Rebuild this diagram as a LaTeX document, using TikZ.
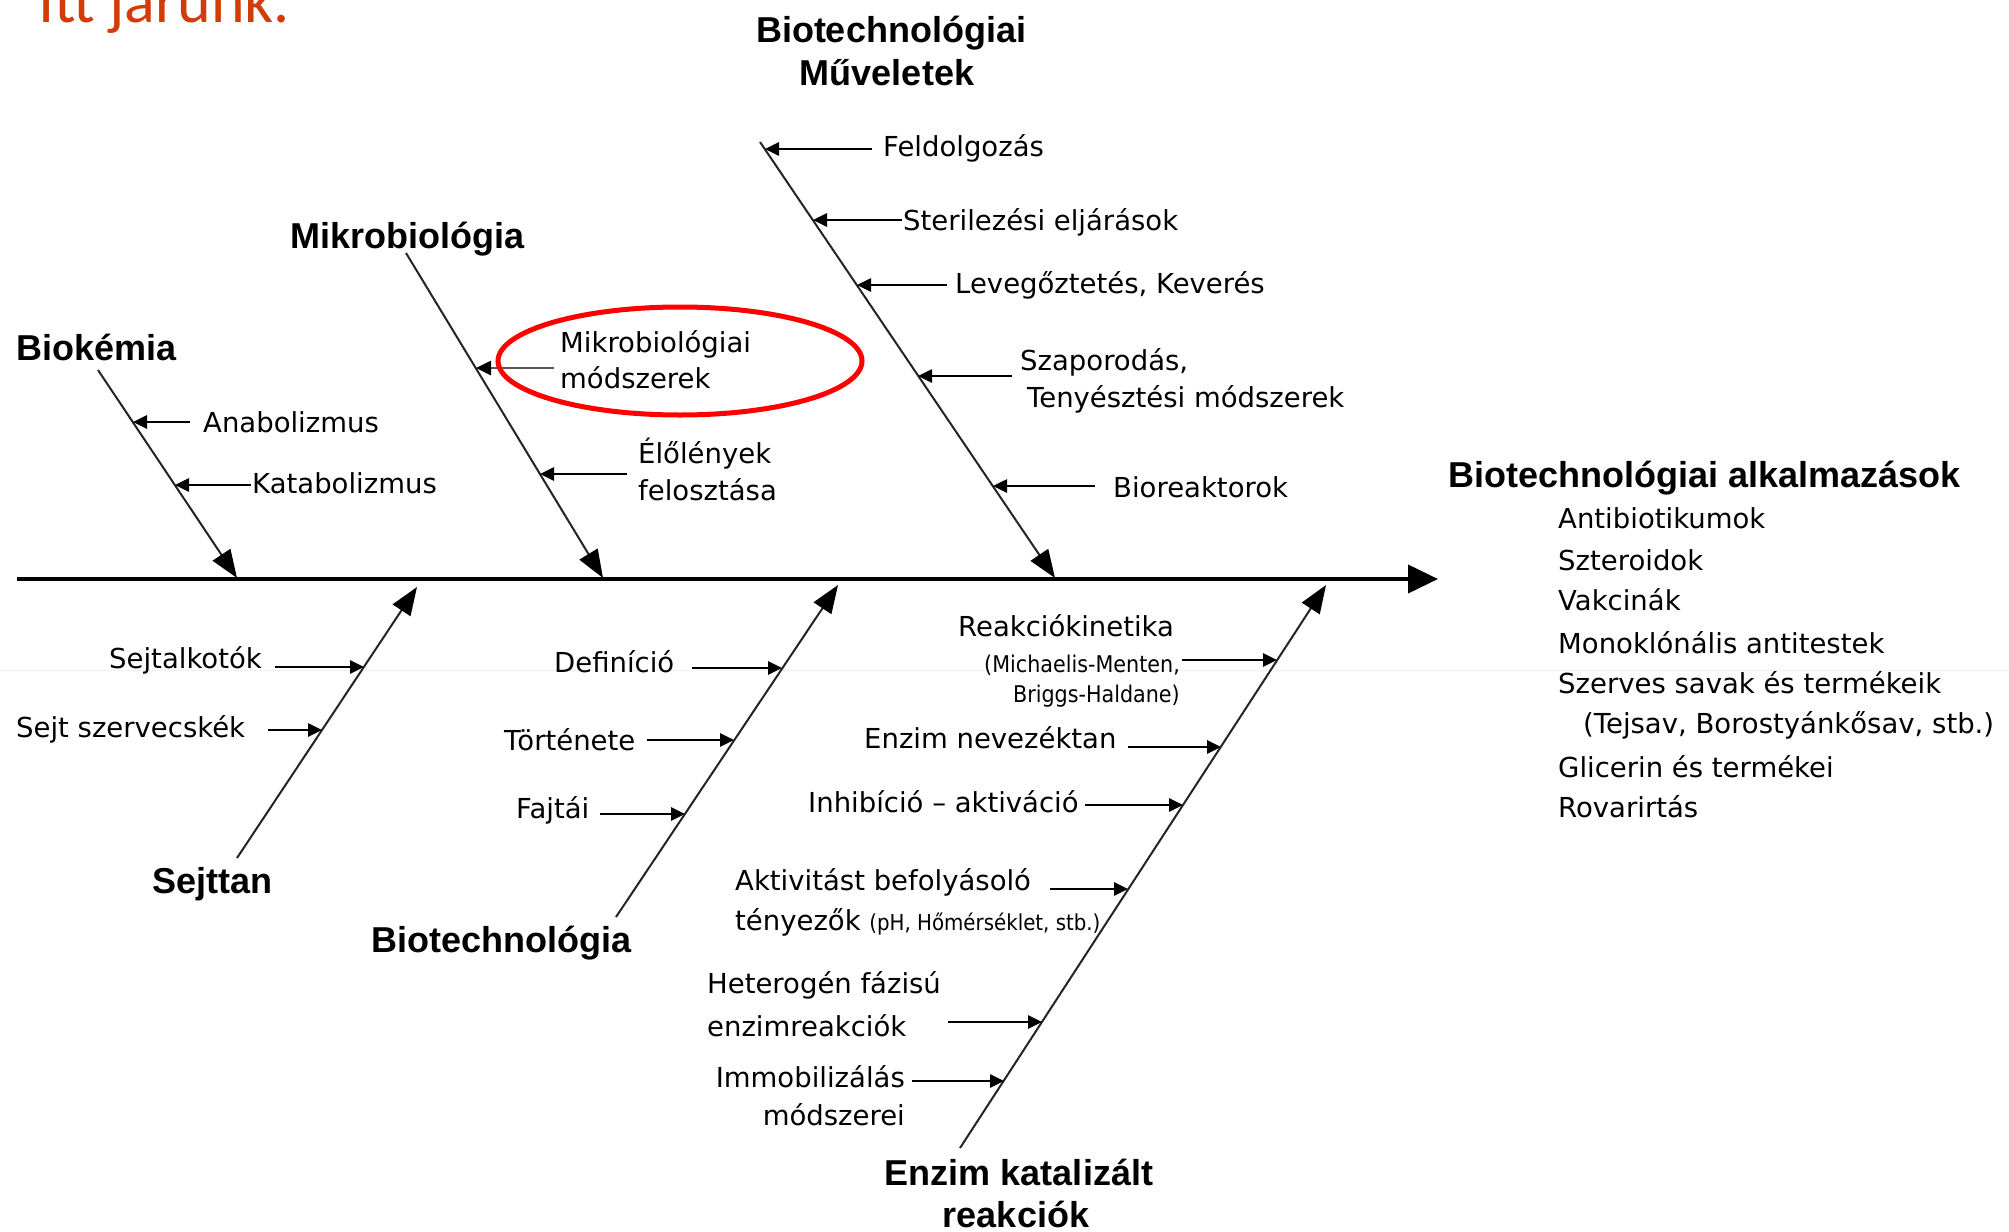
\documentclass[tikz,border=0pt]{standalone}
\usepackage{fontspec}
\setmainfont{DejaVu Sans}
\newfontfamily\headfont{Liberation Sans}
\newfontfamily\titlefont{Carlito}
\newfontfamily\condfont{DejaVu Sans Condensed}
\usetikzlibrary{arrows.meta}
\definecolor{titlered}{RGB}{209,60,10}
\definecolor{bonecol}{RGB}{35,35,45}
\definecolor{faint}{RGB}{228,250,228}
\begin{document}
\begin{tikzpicture}[x=1pt,y=-1pt,
  head/.style={font=\headfont\bfseries\fontsize{36}{43}\selectfont, inner sep=0pt, anchor=base west},
  headc/.style={head, anchor=base},
  lbl/.style={font=\fontsize{27.5}{33}\selectfont, inner sep=0pt, anchor=base west},
  lblr/.style={lbl, anchor=base east},
  smalltxt/.style={font=\condfont\fontsize{23}{27}\selectfont, inner sep=0pt, anchor=base east},
  bone/.style={line width=2pt, draw=bonecol, -{Triangle[length=28pt,width=21pt,color=black]}},
  sub/.style={line width=2.6pt, -{Triangle[length=14pt,width=13pt]}},
  spine/.style={line width=4pt, -{Triangle[length=30pt,width=28pt]}}]
\useasboundingbox (0,0) rectangle (2009,1231);
\fill[white] (0,0) rectangle (2009,1231);
\draw[faint, line width=1pt] (0,670) -- (2009,670);

% title (cut off at the top edge, as in the reference)
\node[font=\titlefont\fontsize{64}{70}\selectfont, text=titlered, inner sep=0pt, anchor=base west] (title) at (38,22.5) {Itt járunk.};

% spine
\coordinate (sp1) at (17,579);
\coordinate (sp2) at (1438,579);
\draw[spine] (sp1) -- (sp2);

% bone coordinates
\coordinate (A1) at (98,370);   \coordinate (A2) at (237,578);
\coordinate (B1) at (406,253);  \coordinate (B2) at (603,578);
\coordinate (C1) at (760,142);  \coordinate (C2) at (1055,578);
\coordinate (D1) at (237,858);  \coordinate (D2) at (417,587);
\coordinate (E1) at (616,917);  \coordinate (E2) at (838,585);
\coordinate (F1) at (960,1148); \coordinate (F2) at (1326,585);
\draw[bone] (A1) -- (A2);
\draw[bone] (B1) -- (B2);
\draw[bone] (C1) -- (C2);
\draw[bone] (D1) -- (D2);
\draw[bone] (E1) -- (E2);
\draw[bone] (F1) -- (F2);

% headings
\node[head] (hbiok) at (16,360) {Biokémia};
\node[head] (hmikro) at (290,248) {Mikrobiológia};
\node[headc] (hmuv1) at (891,42) {Biotechnológiai};
\node[headc] (hmuv2) at (887,85) {Műveletek};
\node[head] (halk) at (1448,487) {Biotechnológiai alkalmazások};
\node[head] (hsejt) at (152,893) {Sejttan};
\node[head] (hbiot) at (371,952) {Biotechnológia};
\node[headc] (henz1) at (1019,1185) {Enzim katalizált};
\node[headc] (henz2) at (1016,1227) {reakciók};

% Biokémia branches
\node[lbl] (anab) at (203,432) {Anabolizmus};
\coordinate (a1s) at (190,422); \coordinate (a1t) at (133,422);
\draw[sub] (a1s) -- (a1t);
\node[lbl] (katab) at (252,493) {Katabolizmus};
\coordinate (a2s) at (251,485); \coordinate (a2t) at (175,485);
\draw[sub] (a2s) -- (a2t);

% Mikrobiológia branches
\node[lbl] (mikm1) at (560,352) {Mikrobiológiai};
\node[lbl] (mikm2) at (560,388) {módszerek};
\coordinate (b1s) at (554,368); \coordinate (b1t) at (476,368);
\draw[sub, draw=gray!70!black, -{Triangle[length=15pt,width=14pt,color=black]}] (b1s) -- (b1t);
\draw[red, line width=5pt] (680,361) ellipse [x radius=182, y radius=54];
\node[lbl] (elo1) at (638,463) {Élőlények};
\node[lbl] (elo2) at (638,500) {felosztása};
\coordinate (b2s) at (627,474); \coordinate (b2t) at (540,474);
\draw[sub] (b2s) -- (b2t);

% Biotechnológiai Műveletek branches
\node[lbl] (feld) at (883,156) {Feldolgozás};
\coordinate (c1s) at (872,149); \coordinate (c1t) at (765,149);
\draw[sub] (c1s) -- (c1t);
\node[lbl] (steril) at (903,230) {Sterilezési eljárások};
\coordinate (c2s) at (902,220); \coordinate (c2t) at (813,220);
\draw[sub] (c2s) -- (c2t);
\node[lbl] (leveg) at (955,293) {Levegőztetés, Keverés};
\coordinate (c3s) at (947,285); \coordinate (c3t) at (857,285);
\draw[sub] (c3s) -- (c3t);
\node[lbl] (szap1) at (1020,370) {Szaporodás,};
\node[lbl] (szap2) at (1027,407) {Tenyésztési módszerek};
\coordinate (c4s) at (1012,376); \coordinate (c4t) at (918,376);
\draw[sub] (c4s) -- (c4t);
\node[lbl] (biore) at (1113,497) {Bioreaktorok};
\coordinate (c5s) at (1095,486); \coordinate (c5t) at (993,486);
\draw[sub] (c5s) -- (c5t);

% Sejttan branches
\node[lbl] (sejtalk) at (109,668) {Sejtalkotók};
\coordinate (d1s) at (275,667); \coordinate (d1t) at (364,667);
\draw[sub] (d1s) -- (d1t);
\node[lbl] (sejtsz) at (16,737) {Sejt szervecskék};
\coordinate (d2s) at (268,730); \coordinate (d2t) at (322,730);
\draw[sub] (d2s) -- (d2t);

% Biotechnológia branches
\node[lbl] (defin) at (554,672) {Definíció};
\coordinate (e1s) at (692,668); \coordinate (e1t) at (782,668);
\draw[sub] (e1s) -- (e1t);
\node[lbl] (tort) at (504,750) {Története};
\coordinate (e2s) at (647,740); \coordinate (e2t) at (734,740);
\draw[sub] (e2s) -- (e2t);
\node[lbl] (fajt) at (516,818) {Fajtái};
\coordinate (e3s) at (600,814); \coordinate (e3t) at (685,814);
\draw[sub] (e3s) -- (e3t);

% Enzim katalizált reakciók branches
\node[lbl] (reak1) at (958,636) {Reakciókinetika};
\node[smalltxt] (reak2) at (1180,672) {(Michaelis-Menten,};
\node[smalltxt] (reak3) at (1180,702) {Briggs-Haldane)};
\coordinate (f1s) at (1182,660); \coordinate (f1t) at (1277,660);
\draw[sub] (f1s) -- (f1t);
\node[lbl] (enzn) at (864,748) {Enzim nevezéktan};
\coordinate (f2s) at (1128,747); \coordinate (f2t) at (1221,747);
\draw[sub] (f2s) -- (f2t);
\node[lbl] (inhib) at (808,812) {Inhibíció – aktiváció};
\coordinate (f3s) at (1085,805); \coordinate (f3t) at (1183,805);
\draw[sub] (f3s) -- (f3t);
\node[lbl] (aktiv1) at (735,890) {Aktivitást befolyásoló};
\node[lbl] (aktiv2) at (735,930) {tényezők {\condfont\fontsize{22}{26}\selectfont (pH, Hőmérséklet, stb.)}};
\coordinate (f4s) at (1050,889); \coordinate (f4t) at (1128,889);
\draw[sub] (f4s) -- (f4t);
\node[lbl] (het1) at (707,993) {Heterogén fázisú};
\node[lbl] (het2) at (707,1036) {enzimreakciók};
\coordinate (f5s) at (948,1022); \coordinate (f5t) at (1042,1022);
\draw[sub] (f5s) -- (f5t);
\node[lblr] (immo1) at (905,1087) {Immobilizálás};
\node[lblr] (immo2) at (905,1125) {módszerei};
\coordinate (f6s) at (912,1081); \coordinate (f6t) at (1004,1081);
\draw[sub] (f6s) -- (f6t);

% application list
\node[lbl] (l1) at (1558,528) {Antibiotikumok};
\node[lbl] (l2) at (1558,570) {Szteroidok};
\node[lbl] (l3) at (1558,610) {Vakcinák};
\node[lbl] (l4) at (1558,653) {Monoklónális antitestek};
\node[lbl] (l5) at (1558,693) {Szerves savak és termékeik};
\node[lbl] (l6) at (1583,733) {(Tejsav, Borostyánkősav, stb.)};
\node[lbl] (l7) at (1558,777) {Glicerin és termékei};
\node[lbl] (l8) at (1558,817) {Rovarirtás};
\end{tikzpicture}
\end{document}
